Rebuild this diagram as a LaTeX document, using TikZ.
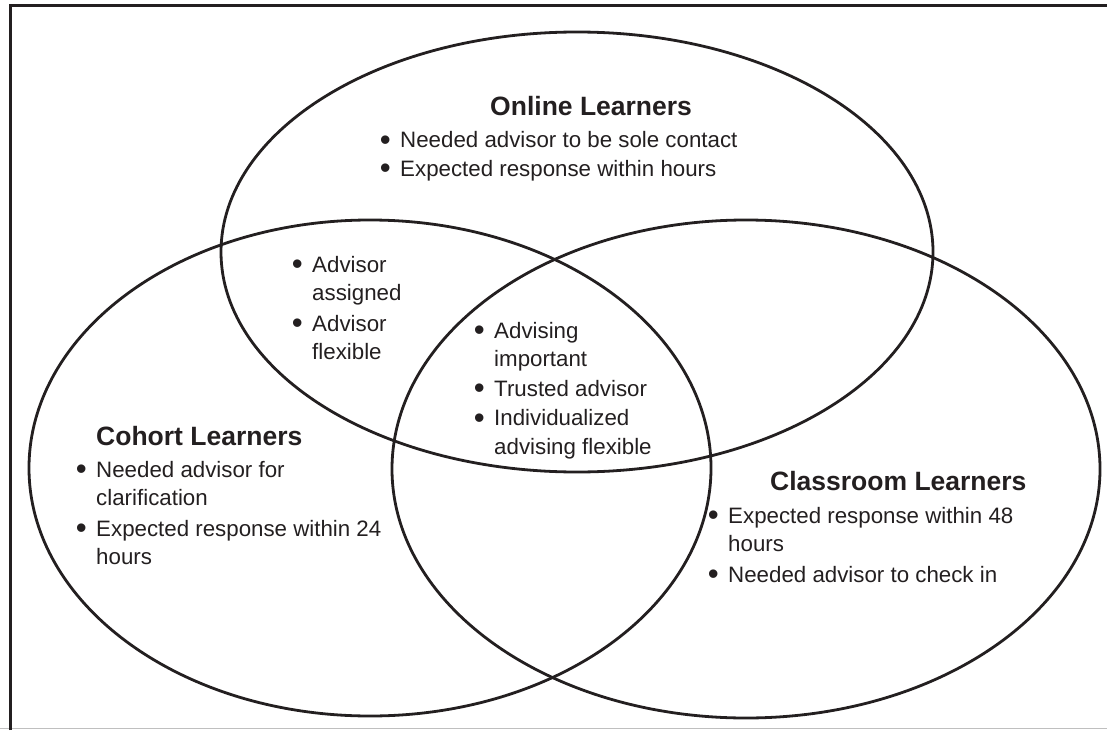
\documentclass[tikz,border=0pt]{standalone}
\usepackage{fontspec}
\setmainfont{Liberation Sans}
\usetikzlibrary{shapes.geometric}
\definecolor{ink}{HTML}{231F20}
\newcommand\bul{\raisebox{-2.5pt}{\scalebox{1.4}{\textbullet}}}
\begin{document}
\begin{tikzpicture}[x=1pt,y=-1pt,
  venn/.style={ellipse,draw=ink,line width=2.8pt,inner sep=0pt,outer sep=0pt},
  ttl/.style={anchor=base west,inner sep=0pt,text=ink,font=\fontsize{26.5}{30}\selectfont\bfseries},
  lst/.style={anchor=base west,inner sep=0pt,text=ink,font=\fontsize{22.3}{28.5}\selectfont}]
\useasboundingbox (0,0) rectangle (1107,730);
% frame
\draw[gray!50,line width=1pt] (0,728.5) -- (1107,728.5);
\draw[ink,line width=2.8pt] (10.5,730) -- (10.5,5.5) -- (1107,5.5);
% circles
\node[venn,minimum width=712pt,minimum height=440pt] (online) at (577,252) {};
\node[venn,minimum width=682pt,minimum height=496pt] (cohort) at (370,468) {};
\node[venn,minimum width=708pt,minimum height=498pt] (classroom) at (746,469) {};
% titles
\node[ttl] (tonline) at (490,116) {Online Learners};
\node[ttl] (tcohort) at (96,445) {Cohort Learners};
\node[ttl] (tclass) at (770,490) {Classroom Learners};
% lists
\node[lst] (lonline) at (379.6,148) {\begin{tabular}[t]{@{}l@{\hspace{9.5pt}}l@{}}
\bul & Needed advisor to be sole contact\\
\bul & Expected response within hours
\end{tabular}};
\node[lst] (lcohort) at (75.6,477) {\begin{tabular}[t]{@{}l@{\hspace{9.5pt}}l@{}}
\bul & Needed advisor for\\
 & clarification\\[2pt]
\bul & Expected response within 24\\
 & hours
\end{tabular}};
\node[lst] (lclass) at (707.6,523) {\begin{tabular}[t]{@{}l@{\hspace{9.5pt}}l@{}}
\bul & Expected response within 48\\
 & hours\\[2pt]
\bul & Needed advisor to check in
\end{tabular}};
\node[lst] (loc) at (291.6,272) {\begin{tabular}[t]{@{}l@{\hspace{9.5pt}}l@{}}
\bul & Advisor\\
 & assigned\\[2pt]
\bul & Advisor\\
 & flexible
\end{tabular}};
\node[lst] (lall) at (473.6,338) {\begin{tabular}[t]{@{}l@{\hspace{9.5pt}}l@{}}
\bul & Advising\\
 & important\\[1pt]
\bul & Trusted advisor\\[1pt]
\bul & Individualized\\
 & advising flexible
\end{tabular}};
\end{tikzpicture}
\end{document}
